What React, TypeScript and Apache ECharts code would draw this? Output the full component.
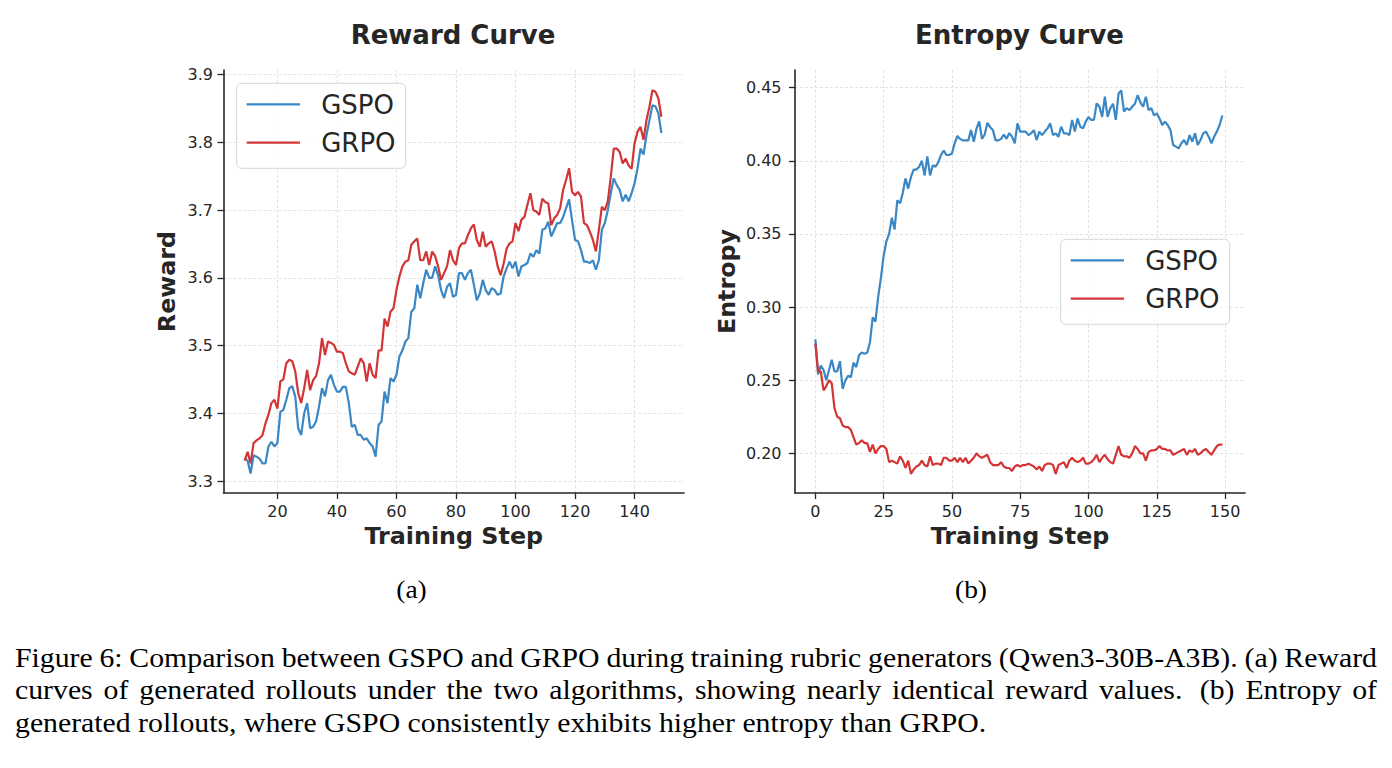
import React, { useEffect, useRef } from 'react';
import * as echarts from 'echarts';

// ---------------- data ----------------
const rewardSteps = Array.from({ length: 141 }, (_, i) => i + 9);
const gspoReward = [
  3.334, 3.330, 3.311, 3.338, 3.336, 3.333, 3.326, 3.326, 3.351, 3.358,
  3.351, 3.356, 3.402, 3.405, 3.420, 3.437, 3.440, 3.425, 3.378, 3.368,
  3.400, 3.415, 3.378, 3.380, 3.388, 3.410, 3.437, 3.425, 3.449, 3.457,
  3.442, 3.432, 3.432, 3.439, 3.439, 3.415, 3.380, 3.383, 3.368, 3.368,
  3.361, 3.363, 3.356, 3.351, 3.336, 3.383, 3.388, 3.432, 3.415, 3.452,
  3.447, 3.457, 3.484, 3.493, 3.506, 3.511, 3.550, 3.555, 3.590, 3.570,
  3.592, 3.612, 3.600, 3.600, 3.617, 3.604, 3.582, 3.570, 3.587, 3.592,
  3.572, 3.575, 3.607, 3.607, 3.597, 3.607, 3.612, 3.590, 3.567, 3.577,
  3.597, 3.582, 3.575, 3.585, 3.582, 3.575, 3.577, 3.602, 3.614, 3.624,
  3.614, 3.624, 3.602, 3.617, 3.619, 3.622, 3.636, 3.631, 3.641, 3.636,
  3.671, 3.673, 3.683, 3.661, 3.671, 3.681, 3.681, 3.690, 3.703, 3.716,
  3.685, 3.656, 3.654, 3.641, 3.624, 3.624, 3.622, 3.626, 3.612, 3.626,
  3.671, 3.681, 3.700, 3.725, 3.747, 3.737, 3.730, 3.713, 3.723, 3.713,
  3.725, 3.740, 3.762, 3.791, 3.782, 3.811, 3.833, 3.855, 3.853, 3.843,
  3.814,
];
const grpoReward = [
  3.330, 3.343, 3.326, 3.356, 3.360, 3.363, 3.368, 3.385, 3.398, 3.415,
  3.420, 3.407, 3.447, 3.450, 3.474, 3.479, 3.477, 3.462, 3.430, 3.415,
  3.437, 3.464, 3.434, 3.449, 3.455, 3.474, 3.511, 3.486, 3.506, 3.504,
  3.501, 3.491, 3.491, 3.489, 3.474, 3.462, 3.459, 3.457, 3.469, 3.481,
  3.474, 3.447, 3.474, 3.457, 3.452, 3.493, 3.493, 3.540, 3.528, 3.550,
  3.555, 3.582, 3.602, 3.617, 3.624, 3.626, 3.649, 3.654, 3.658, 3.626,
  3.626, 3.639, 3.619, 3.639, 3.632, 3.617, 3.597, 3.607, 3.617, 3.641,
  3.626, 3.619, 3.644, 3.651, 3.651, 3.663, 3.673, 3.679, 3.656, 3.646,
  3.668, 3.646, 3.651, 3.654, 3.639, 3.617, 3.604, 3.621, 3.643, 3.651,
  3.654, 3.681, 3.669, 3.686, 3.690, 3.708, 3.725, 3.700, 3.698, 3.693,
  3.717, 3.712, 3.710, 3.678, 3.688, 3.693, 3.703, 3.730, 3.745, 3.762,
  3.727, 3.722, 3.727, 3.720, 3.681, 3.678, 3.668, 3.656, 3.639, 3.671,
  3.705, 3.700, 3.713, 3.749, 3.791, 3.791, 3.786, 3.769, 3.776, 3.766,
  3.761, 3.799, 3.816, 3.823, 3.804, 3.833, 3.853, 3.877, 3.875, 3.865,
  3.838,
];

const entropySteps = Array.from({ length: 150 }, (_, i) => i);
const gspoEntropy = [
  0.278, 0.254, 0.260, 0.257, 0.250, 0.257, 0.264, 0.256, 0.256, 0.263,
  0.244, 0.250, 0.253, 0.252, 0.262, 0.259, 0.267, 0.269, 0.268, 0.269,
  0.276, 0.293, 0.290, 0.307, 0.320, 0.335, 0.345, 0.350, 0.361, 0.353,
  0.373, 0.371, 0.378, 0.388, 0.381, 0.389, 0.394, 0.394, 0.396, 0.400,
  0.390, 0.403, 0.390, 0.397, 0.396, 0.399, 0.404, 0.407, 0.404, 0.404,
  0.405, 0.412, 0.417, 0.415, 0.414, 0.414, 0.414, 0.421, 0.413, 0.422,
  0.427, 0.415, 0.418, 0.426, 0.423, 0.421, 0.414, 0.414, 0.415, 0.418,
  0.415, 0.419, 0.4165, 0.412, 0.4256, 0.420, 0.420, 0.420, 0.4176, 0.4188,
  0.421, 0.4142, 0.420, 0.4176, 0.420, 0.4222, 0.4256, 0.4176, 0.4188, 0.4165,
  0.4233, 0.4188, 0.4188, 0.4176, 0.428, 0.420, 0.429, 0.4233, 0.4222, 0.4268,
  0.430, 0.428, 0.428, 0.4393, 0.437, 0.430, 0.4438, 0.430, 0.436, 0.439,
  0.428, 0.446, 0.448, 0.4336, 0.436, 0.4347, 0.437, 0.439, 0.445, 0.440,
  0.437, 0.4438, 0.4347, 0.436, 0.431, 0.4325, 0.429, 0.4245, 0.4268, 0.4245,
  0.421, 0.4108, 0.4097, 0.4085, 0.412, 0.4142, 0.4108, 0.4176, 0.4131, 0.4188,
  0.4108, 0.4142, 0.4188, 0.420, 0.4165, 0.412, 0.4165, 0.420, 0.4245, 0.431,
];
const grpoEntropy = [
  0.275, 0.256, 0.256, 0.243, 0.246, 0.250, 0.248, 0.231, 0.225, 0.224,
  0.219, 0.218, 0.218, 0.216, 0.211, 0.206, 0.207, 0.209, 0.207, 0.207,
  0.201, 0.206, 0.200, 0.203, 0.205, 0.205, 0.203, 0.194, 0.195, 0.194,
  0.193, 0.198, 0.195, 0.190, 0.195, 0.186, 0.189, 0.191, 0.192, 0.195,
  0.192, 0.191, 0.198, 0.192, 0.193, 0.193, 0.192, 0.197, 0.197, 0.195,
  0.195, 0.197, 0.194, 0.197, 0.194, 0.197, 0.193, 0.195, 0.197, 0.200,
  0.198, 0.197, 0.198, 0.199, 0.194, 0.192, 0.192, 0.192, 0.194, 0.191,
  0.190, 0.190, 0.188, 0.191, 0.192, 0.191, 0.192, 0.192, 0.193, 0.192,
  0.191, 0.189, 0.191, 0.188, 0.192, 0.193, 0.193, 0.192, 0.186, 0.192,
  0.193, 0.194, 0.190, 0.195, 0.197, 0.195, 0.194, 0.195, 0.197, 0.193,
  0.193, 0.194, 0.196, 0.199, 0.194, 0.197, 0.199, 0.196, 0.194, 0.193,
  0.199, 0.205, 0.199, 0.198, 0.198, 0.197, 0.200, 0.205, 0.203, 0.200,
  0.200, 0.195, 0.201, 0.202, 0.202, 0.203, 0.205, 0.203, 0.203, 0.202,
  0.202, 0.199, 0.200, 0.201, 0.202, 0.203, 0.199, 0.202, 0.201, 0.203,
  0.199, 0.200, 0.202, 0.203, 0.201, 0.199, 0.202, 0.205, 0.206, 0.206,
];

const rewardXTicks = [20, 40, 60, 80, 100, 120, 140];
const rewardYTicks = [3.3, 3.4, 3.5, 3.6, 3.7, 3.8, 3.9];
const entropyXTicks = [0, 25, 50, 75, 100, 125, 150];
const entropyYTicks = [0.2, 0.25, 0.3, 0.35, 0.4, 0.45];

const seriesNames = ['GSPO', 'GRPO'];
const seriesColors = ['#3a87c5', '#d33536'];
const titles = ['Reward Curve', 'Entropy Curve'];
const yNames = ['Reward', 'Entropy'];
const xName = 'Training Step';
const subLabels = ['(a)', '(b)'];
const captionLines = [
  'Figure 6: Comparison between GSPO and GRPO during training rubric generators (Qwen3-30B-A3B). (a) Reward',
  'curves of generated rollouts under the two algorithms, showing nearly identical reward values. (b) Entropy of',
  'generated rollouts, where GSPO consistently exhibits higher entropy than GRPO.',
];

// ---------------- styling ----------------
const INK = '#262626';
const SANS = 'DejaVu Sans';
const SERIF = 'Liberation Serif';
const GRID_LINE = { color: '#dcdcdc', width: 0.8, type: [3, 2] as number[] };

const grids = [
  { left: 223.5, top: 70, width: 460.5, height: 423 },
  { left: 795, top: 70, width: 450, height: 423 },
];

function xAxisCfg(gridIndex: number, min: number, max: number, ticks: number[]) {
  return {
    type: 'value',
    gridIndex,
    min,
    max,
    name: xName,
    nameLocation: 'middle',
    nameGap: 30.5,
    nameTextStyle: { fontSize: 23.8, fontWeight: 'bold', color: INK, fontFamily: SANS },
    axisLine: { show: true, onZero: false, lineStyle: { color: INK, width: 1.6 } },
    axisTick: { show: true, length: 6, customValues: ticks, lineStyle: { color: INK, width: 1.3 } },
    axisLabel: {
      customValues: ticks,
      fontSize: 16,
      color: INK,
      margin: 10.5,
      fontFamily: SANS,
      formatter: (v: number) => String(v),
    },
    splitLine: { show: true, lineStyle: GRID_LINE },
  };
}

function yAxisCfg(
  gridIndex: number,
  min: number,
  max: number,
  ticks: number[],
  name: string,
  nameGap: number,
  margin: number,
  digits: number
) {
  return {
    type: 'value',
    gridIndex,
    min,
    max,
    name,
    nameLocation: 'middle',
    nameGap,
    nameTextStyle: { fontSize: 23.8, fontWeight: 'bold', color: INK, fontFamily: SANS },
    axisLine: { show: true, onZero: false, lineStyle: { color: INK, width: 1.6 } },
    axisTick: { show: true, length: 6, customValues: ticks, lineStyle: { color: INK, width: 1.3 } },
    axisLabel: {
      customValues: ticks,
      fontSize: 16,
      color: INK,
      margin,
      fontFamily: SANS,
      formatter: (v: number) => v.toFixed(digits),
    },
    splitLine: { show: true, lineStyle: GRID_LINE },
  };
}

function lineSeries(name: string, color: string, xs: number[], ys: number[], idx: number) {
  return {
    type: 'line',
    name,
    xAxisIndex: idx,
    yAxisIndex: idx,
    data: xs.map((x, i) => [x, ys[i]]),
    showSymbol: false,
    symbol: 'none',
    lineStyle: { color, width: 2.2 },
    itemStyle: { color },
    z: 3,
  };
}

function legendGraphic(x: number, y: number): any[] {
  const els: any[] = [
    {
      type: 'rect',
      z: 50,
      shape: { x, y, width: 169, height: 85, r: 5 },
      style: { fill: 'rgba(255,255,255,0.85)', stroke: '#d6d6d6', lineWidth: 1 },
    },
  ];
  seriesNames.forEach((name, i) => {
    const cy = y + 21 + i * 38.4;
    els.push({
      type: 'line',
      z: 51,
      shape: { x1: x + 10, y1: cy, x2: x + 63.3, y2: cy },
      style: { stroke: seriesColors[i], lineWidth: 2.2 },
    });
    els.push({
      type: 'text',
      z: 51,
      x: x + 84.5,
      y: cy + 0.6,
      style: {
        text: name,
        fontSize: 26,
        fontFamily: SANS,
        fill: INK,
        align: 'left',
        verticalAlign: 'middle',
      },
    });
  });
  return els;
}

function captionGraphic(): any[] {
  const size = 27;
  const left = 15;
  const right = 1377;
  const lastLineWidth = 972; // width of the (unjustified) last caption line
  const ys = [658.2, 690.2, 722.6];
  const canvas = document.createElement('canvas');
  const ctx = canvas.getContext('2d');
  const els: any[] = [];
  let sx = 1.107;
  if (ctx) {
    ctx.font = `${size}px "${SERIF}"`;
    const w = ctx.measureText(captionLines[captionLines.length - 1]).width;
    if (w > 0) sx = lastLineWidth / w;
  }
  const mk = (text: string, x: number, y: number) => ({
    type: 'text',
    x,
    y,
    scaleX: sx,
    style: {
      text,
      fontSize: size,
      fontFamily: SERIF,
      fill: '#000',
      align: 'left',
      verticalAlign: 'middle',
    },
  });
  captionLines.forEach((line, i) => {
    const last = i === captionLines.length - 1;
    if (last || !ctx) {
      els.push(mk(line, left, ys[i]));
      return;
    }
    const words = line.split(' ').filter((w) => w.length > 0);
    const widths = words.map((w) => ctx.measureText(w).width * sx);
    const total = widths.reduce((a, b) => a + b, 0);
    // sentence-ending period (after a lowercase letter) gets a wider space
    const weights = words.slice(0, -1).map((w) => (/[a-z]\.$/.test(w) ? 1.6 : 1));
    const unit = (right - left - total) / weights.reduce((a, b) => a + b, 0);
    let x = left;
    words.forEach((w, j) => {
      els.push(mk(w, x, ys[i]));
      if (j < weights.length) x += widths[j] + unit * weights[j];
    });
  });
  return els;
}

export default function App() {
  const ref = useRef<HTMLDivElement>(null);

  useEffect(() => {
    if (!ref.current) return;
    const chart = echarts.init(ref.current, undefined, { renderer: 'svg' });

    const graphic: any[] = [
      {
        type: 'text',
        x: 453,
        y: 34.6,
        style: { text: titles[0], fontSize: 26, fontWeight: 'bold', fontFamily: SANS, fill: INK, align: 'center', verticalAlign: 'middle' },
      },
      {
        type: 'text',
        x: 1019.5,
        y: 34.6,
        style: { text: titles[1], fontSize: 26, fontWeight: 'bold', fontFamily: SANS, fill: INK, align: 'center', verticalAlign: 'middle' },
      },
      {
        type: 'text',
        x: 411.5,
        y: 590,
        scaleX: 1.1,
        style: { text: subLabels[0], fontSize: 25, fontFamily: SERIF, fill: '#000', align: 'center', verticalAlign: 'middle' },
      },
      {
        type: 'text',
        x: 971,
        y: 590,
        scaleX: 1.1,
        style: { text: subLabels[1], fontSize: 25, fontFamily: SERIF, fill: '#000', align: 'center', verticalAlign: 'middle' },
      },
      ...legendGraphic(236.7, 83.3),
      ...legendGraphic(1060.7, 239.3),
      ...captionGraphic(),
    ];

    const option: any = {
      animation: false,
      backgroundColor: '#ffffff',
      textStyle: { fontFamily: SANS },
      grid: grids,
      xAxis: [
        xAxisCfg(0, 1.9, 156.6, rewardXTicks),
        xAxisCfg(1, -7.45, 157.3, entropyXTicks),
      ],
      yAxis: [
        yAxisCfg(0, 3.2823, 3.907, rewardYTicks, yNames[0], 45, 10.5, 1),
        yAxisCfg(1, 0.1729, 0.4621, entropyYTicks, yNames[1], 56, 13.5, 2),
      ],
      series: [
        lineSeries(seriesNames[0], seriesColors[0], rewardSteps, gspoReward, 0),
        lineSeries(seriesNames[1], seriesColors[1], rewardSteps, grpoReward, 0),
        lineSeries(seriesNames[0], seriesColors[0], entropySteps, gspoEntropy, 1),
        lineSeries(seriesNames[1], seriesColors[1], entropySteps, grpoEntropy, 1),
      ],
      graphic,
    };

    chart.setOption(option);
    return () => chart.dispose();
  }, []);

  return (
    <div
      ref={ref}
      style={{ position: 'absolute', left: 0, top: 0, width: 1392, height: 768, background: '#fff' }}
    />
  );
}
